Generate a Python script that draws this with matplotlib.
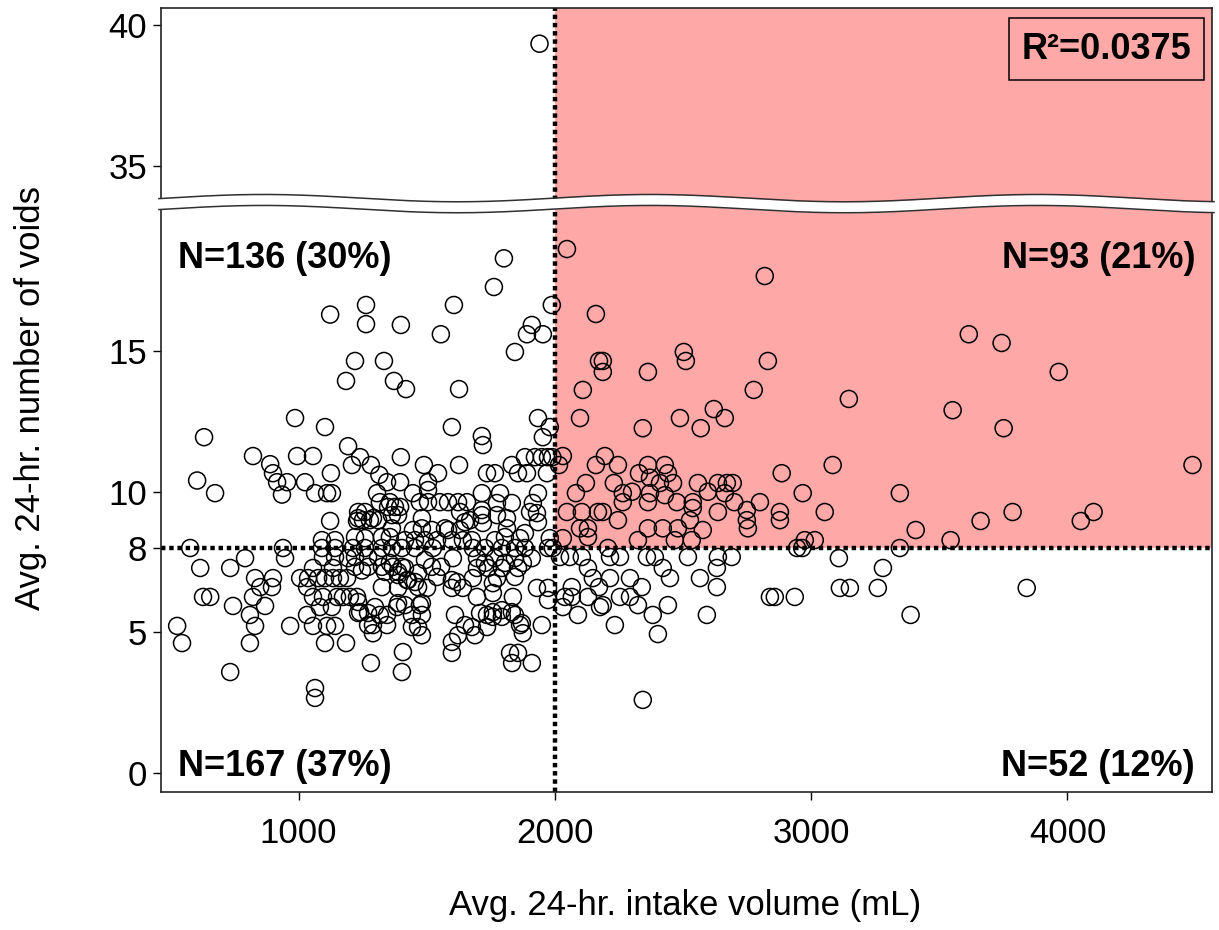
import matplotlib
matplotlib.use("Agg")
import matplotlib.pyplot as plt
import numpy as np
from matplotlib.patches import Rectangle

plt.rcParams['font.family'] = ['Liberation Sans', 'DejaVu Sans']

# ---------------- data ----------------
# top-left quadrant (intake < 2000 mL, voids > 8)
intake_tl = [1123, 1220, 1185, 986, 1103, 631, 1193, 822, 889, 900, 994, 1056, 1126, 1208, 604,
             1801, 1762, 1263, 1263, 1399, 1606, 1555, 1988, 1910, 1891, 1953, 1844, 1333, 1372,
             1419, 1626, 1598, 1934, 1980, 1953, 1715, 1719, 1399, 1240, 1282, 1489, 1544, 1626,
             1832, 1883, 1922, 1949, 1973, 1990, 1735, 1766, 1856, 1891, 1969, 1315, 1345, 1396,
             1505,
             674, 916, 955, 935, 1025, 1064, 1111, 1130, 1123, 1228, 1091, 1142, 1259, 1306, 1356,
             1232, 1259, 1251, 1278, 1310, 1349, 1376, 1396, 1364, 1388, 1364,
             1505, 1473, 1505, 1551, 1583, 1622, 1657, 1715, 1786, 1715, 1774, 1832, 1630, 1669,
             1903, 1930, 1914, 1934, 1934, 1481, 1481, 1715, 1719, 1813, 1813, 1583, 1630, 1415,
             1454, 1493, 1540, 1598, 1641, 1676, 1766, 1805, 1864, 1980,
             1232, 1446, 1520, 1649, 1774, 1883, 1220, 1325, 1356, 1290, 1317, 1446, 1571]
voids_tl = [16.3, 14.65, 13.94, 12.62, 12.3, 11.94, 11.62, 11.27, 10.98, 10.66, 11.27, 11.27, 10.66, 10.95, 10.4,
            18.3, 17.28, 16.64, 15.96, 15.93, 16.64, 15.6, 16.64, 15.93, 15.6, 15.6, 14.97, 14.65, 13.94,
            13.65, 13.65, 12.3, 12.62, 12.3, 11.94, 11.98, 11.66, 11.23, 11.23, 10.95, 10.95, 10.66, 10.95,
            10.95, 11.23, 11.23, 11.23, 11.23, 11.23, 10.66, 10.66, 10.66, 10.66, 10.66, 10.6, 10.34, 10.34,
            10.34,
            9.95, 10.34, 10.34, 9.9, 10.34, 9.95, 9.95, 9.95, 8.96, 8.96, 8.28, 8.28, 8.35, 9.95, 9.63,
            9.28, 9.28, 8.99, 8.99, 8.99, 9.46, 9.46, 9.46, 9.17, 9.17, 8.7,
            10.06, 9.63, 9.63, 9.63, 9.63, 9.63, 9.63, 9.95, 9.95, 9.35, 9.6, 9.6, 9.28, 8.99,
            9.28, 9.24, 9.6, 9.95, 8.92, 9.06, 8.7, 9.17, 8.89, 9.06, 8.7, 8.64, 8.64, 8.28,
            8.28, 8.28, 8.28, 8.28, 8.28, 8.28, 8.28, 8.39, 8.35, 8.35,
            9.06, 8.64, 8.64, 8.92, 9.17, 8.53, 8.39, 8.39, 8.39, 9.06, 9.63, 9.95, 8.7]

# the single outlier drawn above the axis break
intake_out = [1940]
voids_out = [39.33]

# top-right quadrant (intake > 2000 mL, voids > 8)
intake_tr = [2047, 2819, 2160, 2172, 2187, 2187, 2503, 2511, 2363, 2831, 2109, 2776, 2098, 2343, 2488,
             2569, 2620, 2663, 2031, 2016, 2160, 2195, 2246, 2328, 2363, 2429, 2441, 2885, 2121, 2410,
             2461, 2558, 2636, 2671, 2694, 2371,
             2265, 2265, 2371, 2363, 2429, 2476, 2538, 2538, 2663, 2800,
             2047, 2105, 2168, 2187, 2246, 2098, 2129, 2129, 2031,
             2636, 2749, 2749, 2753, 2878, 2878,
             2363, 2421, 2480, 2527, 2577, 2324, 2468, 2534,
             3615, 3743, 3966, 3147, 3552, 3751, 3084, 4488,
             2967, 3346, 3053, 3408, 3661, 3786, 4052, 4102, 2975, 3014, 3544,
             2082, 2230, 2301, 2597, 2700]
voids_tr = [18.63, 17.67, 16.32, 14.65, 14.65, 14.26, 14.97, 14.65, 14.26, 14.65, 13.62, 13.62, 12.62, 12.26, 12.62,
            12.26, 12.94, 12.62, 11.27, 10.95, 10.95, 11.27, 10.95, 10.66, 10.95, 10.95, 10.66, 10.66, 10.31, 10.31,
            10.31, 10.31, 10.31, 10.31, 10.31, 10.5,
            9.95, 9.63, 9.95, 9.63, 9.88, 9.63, 9.63, 9.42, 9.95, 9.63,
            9.28, 9.28, 9.28, 9.28, 8.99, 8.7, 8.7, 8.39, 8.35,
            9.28, 9.35, 8.99, 8.7, 9.28, 8.99,
            8.7, 8.7, 8.7, 8.99, 8.64, 8.28, 8.28, 8.28,
            15.6, 15.29, 14.26, 13.3, 12.9, 12.26, 10.95, 10.95,
            9.95, 9.95, 9.28, 8.64, 8.96, 9.28, 8.96, 9.28, 8.28, 8.28, 8.28,
            9.95, 10.31, 10.0, 10.0, 9.63]

# bottom-left quadrant (intake < 2000 mL, voids <= 8)
intake_bl = [577, 939, 1091, 1142, 1212, 1259, 1325, 1364, 1403, 1454, 1524, 1680, 1727, 1793, 1844, 1883, 1973, 1992,
             947, 791, 616, 733, 830, 900, 850, 896, 822, 1006, 1056, 1134, 1037, 1076, 1103, 1134, 1161, 1189,
             627, 655, 744, 810, 869, 830, 1033, 1056, 1095, 1150, 1173, 1200, 1228, 1083, 1033, 526, 967,
             1056, 1111, 1142, 545, 810, 1103, 1185, 733, 1064, 1064,
             1095, 1142, 1193, 1220, 1271, 1325, 1368, 1403, 1337, 1388, 1423, 1130, 1232, 1271, 1317, 1345,
             1384, 1290, 1290, 1282, 1403, 1407,
             1602, 1493, 1520, 1466, 1696, 1727, 1766, 1805, 1844, 1875, 1910, 1696, 1739, 1793, 1856, 1844,
             1540, 1427, 1466, 1501, 1598, 1641, 1598, 1618, 1758, 1758, 1696, 1836, 1930, 1973, 1973, 1415,
             1473, 1610, 1649, 1708, 1758, 1758, 1793, 1793, 1844, 1864, 1875, 1688, 1735, 1442, 1442, 1466,
             1481, 1949, 1598, 1598, 1622, 1825, 1856, 1833, 1910,
             1220, 1271, 1310, 1247, 1356, 1415, 1388, 1325, 1388, 1454, 1232, 1240, 1298, 1345, 1388, 1481,
             1481, 1271, 1676, 1735, 1871, 1832,
             1556, 1680, 1774]
voids_bl = [8, 8, 8, 8, 8, 8, 8, 8, 8, 8, 8, 8, 8, 8, 8, 8, 8, 8,
            7.64, 7.64, 7.29, 7.29, 6.93, 6.93, 6.61, 6.61, 6.26, 6.93, 7.29, 7.29, 6.93, 6.93, 6.93, 6.93, 6.93, 6.93,
            6.26, 6.26, 5.94, 5.62, 5.94, 5.23, 6.61, 6.26, 6.26, 6.26, 6.26, 6.26, 6.26, 5.9, 5.62, 5.23, 5.23,
            5.23, 5.23, 5.23, 4.62, 4.62, 4.62, 4.62, 3.59, 3.02, 2.67,
            7.68, 7.68, 7.64, 7.33, 7.33, 7.33, 7.33, 7.33, 7.15, 7.15, 6.86, 5.9, 5.69, 5.69, 5.62, 5.26,
            5.9, 5.26, 4.97, 3.91, 3.59, 4.3,
            7.64, 7.57, 7.33, 7.11, 7.64, 7.47, 7.64, 7.47, 7.64, 7.47, 7.64, 7.29, 7.29, 7.29, 7.29, 6.97,
            6.97, 6.86, 6.61, 6.58, 6.58, 6.58, 6.86, 6.79, 6.75, 6.4, 6.26, 6.26, 6.58, 6.58, 6.15, 5.97,
            5.97, 5.62, 5.26, 5.69, 5.72, 5.55, 5.79, 5.55, 5.62, 5.26, 4.97, 4.9, 5.19, 5.62, 5.19, 5.19,
            4.9, 5.26, 4.66, 4.27, 4.9, 4.27, 4.27, 3.91, 3.91,
            7.68, 7.68, 7.68, 7.2, 7.47, 7.29, 7.04, 6.61, 6.58, 6.79, 6.08, 5.72, 5.9, 5.62, 6.04, 6.04,
            5.62, 5.26, 5.19, 5.62, 5.33, 5.72,
            7.33, 6.93, 6.93]

# bottom-right quadrant (intake > 2000 mL, voids <= 8)
intake_br = [2945, 2965, 3346, 2207,
             2020, 2105, 2215, 2254, 2359, 2390, 2519, 2636, 2690,
             2129, 2421, 2632,
             2148, 2215, 2293, 2449, 2566,
             2339, 2632, 2066,
             2039, 2066, 2129, 2254, 2293,
             2031, 2176, 2187, 2324, 2441,
             2090, 2382, 2593,
             2234, 2402, 2343,
             2839, 2858, 2936,
             3108, 3280, 3112, 3151, 3260, 3841, 3388,
             2058, 2172]
voids_br = [8, 8, 8, 8,
            7.68, 7.68, 7.68, 7.68, 7.68, 7.68, 7.68, 7.68, 7.68,
            7.29, 7.29, 7.29,
            6.93, 6.93, 6.93, 6.93, 6.93,
            6.61, 6.61, 6.61,
            6.26, 6.26, 6.26, 6.26, 6.26,
            5.9, 5.9, 5.97, 5.97, 5.97,
            5.62, 5.62, 5.62,
            5.26, 4.94, 2.6,
            6.26, 6.26, 6.26,
            7.64, 7.29, 6.58, 6.58, 6.58, 6.58, 5.62,
            7.68, 6.61]

quadrant_labels = ["N=136 (30%)", "N=93 (21%)", "N=167 (37%)", "N=52 (12%)"]
r2_label = "R\u00b2=0.0375"

x_cut = 2000
y_cut = 8

# y-axis break: values above the break are drawn shifted down
break_shift = 13.4
y_ticks = [0, 5, 8, 10, 15, 35, 40]

# ---------------- figure ----------------
W, H = 1219, 930
fig = plt.figure(figsize=(W / 100, H / 100), dpi=100)
L, R, T, B = 161, 1212, 8, 792
ax = fig.add_axes([L / W, 1 - B / H, (R - L) / W, (B - T) / H])

XMIN, XMAX = 463, 4564
YMIN, YMAX = -0.675, 27.2
ax.set_xlim(XMIN, XMAX)
ax.set_ylim(YMIN, YMAX)

red = '#FFA8A8'
ax.add_patch(Rectangle((x_cut, y_cut), XMAX - x_cut, YMAX - y_cut, facecolor=red,
                       edgecolor='none', zorder=0))

dot = (0, (1, 0.85))
ax.axvline(x_cut, color='black', lw=3.2, linestyle=dot, zorder=2)
ax.axhline(y_cut, color='black', lw=3.2, linestyle=dot, zorder=2)

mk = dict(s=150, facecolors='none', edgecolors='black', linewidths=1.1, zorder=3)
ax.scatter(intake_tl, voids_tl, **mk)
ax.scatter(intake_tr, voids_tr, **mk)
ax.scatter(intake_bl, voids_bl, **mk)
ax.scatter(intake_br, voids_br, **mk)
ax.scatter(intake_out, np.array(voids_out) - break_shift, **mk)

# wavy axis break band
xs = np.linspace(XMIN - 8, XMAX + 8, 600)
wave = 0.13 * np.cos(2 * np.pi * (xs - 864) / 1510)
up = 20.44 + wave
lo = 20.05 + wave
ax.fill_between(xs, lo, up, color='white', zorder=6, clip_on=False, lw=0)
ax.plot(xs, up, color='#303030', lw=1.1, zorder=7, clip_on=False)
ax.plot(xs, lo, color='#303030', lw=1.1, zorder=7, clip_on=False)

# ticks
tick_pos = [t if t < 20 else t - break_shift for t in y_ticks]
ax.set_yticks(tick_pos)
ax.set_yticklabels([str(t) for t in y_ticks])
ax.set_xticks([1000, 2000, 3000, 4000])
ax.set_xticklabels(['1000', '2000', '3000', '4000'])
ax.tick_params(axis='both', direction='out', length=6, width=1.0, labelsize=25, colors='black')
ax.tick_params(axis='x', pad=12)
ax.tick_params(axis='y', pad=4)
for sp in ax.spines.values():
    sp.set_linewidth(1.2)
    sp.set_color('#222222')

ax.set_xlabel("Avg. 24-hr. intake volume (mL)", fontsize=25)
ax.set_ylabel("Avg. 24-hr. number of voids", fontsize=25)
ax.xaxis.label.set_va('center')
ax.yaxis.label.set_va('center')
ax.xaxis.set_label_coords((685 - L) / (R - L), (B - 905) / (B - T))
ax.yaxis.set_label_coords((31 - L) / (R - L), (B - 398) / (B - T))

# quadrant annotations
fs = 26
yt = (B - 258) / (B - T)
yb = (B - 766) / (B - T)
xl = (178 - L) / (R - L)
xr = (1195 - L) / (R - L)
ax.text(xl, yt, quadrant_labels[0], transform=ax.transAxes, fontsize=fs, fontweight='bold',
        ha='left', va='center', zorder=8)
ax.text(xr, yt, quadrant_labels[1], transform=ax.transAxes, fontsize=fs, fontweight='bold',
        ha='right', va='center', zorder=8)
ax.text(xl, yb, quadrant_labels[2], transform=ax.transAxes, fontsize=fs, fontweight='bold',
        ha='left', va='center', zorder=8)
ax.text(xr, yb, quadrant_labels[3], transform=ax.transAxes, fontsize=fs, fontweight='bold',
        ha='right', va='center', zorder=8)

# R^2 box
bx0, bx1, by0, by1 = 1009, 1204, 18, 80
ax.add_patch(Rectangle(((bx0 - L) / (R - L), (B - by1) / (B - T)), (bx1 - bx0) / (R - L),
                       (by1 - by0) / (B - T), transform=ax.transAxes, facecolor='none',
                       edgecolor='black', lw=1.1, zorder=8))
ax.text(((bx0 + bx1) / 2 - L) / (R - L), (B - (by0 + by1) / 2) / (B - T), r2_label,
        transform=ax.transAxes, fontsize=fs, fontweight='bold', ha='center', va='center', zorder=9)

fig.savefig('out.png', dpi=100)
